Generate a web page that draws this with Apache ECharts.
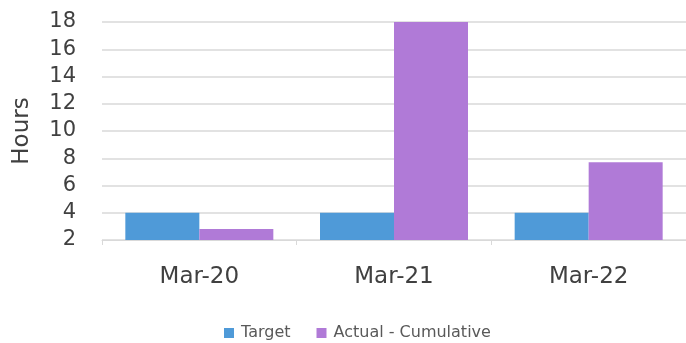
<!DOCTYPE html>
<html><head><meta charset="utf-8">
<script src="https://cdn.jsdelivr.net/npm/echarts@6/dist/echarts.min.js"></script>
<style>html,body{margin:0;padding:0;background:#fff}#c{width:686px;height:343px}</style>
</head><body><div id="c"></div>
<script>
var categories = ['Mar-20', 'Mar-21', 'Mar-22'];
var targetValues = [4, 4, 4];
var actualValues = [2.8, 18, 7.7];
var yTicks = [2, 4, 6, 8, 10, 12, 14, 16, 18];

var chart = echarts.init(document.getElementById('c'));
chart.setOption({
  animation: false,
  backgroundColor: '#fff',
  textStyle: { fontFamily: 'DejaVu Sans' },
  legend: {
    left: 219, top: 320,
    itemWidth: 10, itemHeight: 10, itemGap: 26,
    icon: 'rect',
    textStyle: { fontSize: 16, color: '#595959', fontFamily: 'DejaVu Sans', padding: [0,0,0,2] },
    data: ['Target', 'Actual - Cumulative']
  },
  grid: { left: 102, top: 22, width: 590, height: 218, containLabel: false },
  xAxis: {
    type: 'category', data: categories,
    axisLine: { lineStyle: { color: '#d9d9d9' } },
    axisTick: { show: true, lineStyle: { color: '#d9d9d9' }, length: 5 },
    axisLabel: { fontSize: 23, color: '#404040', margin: 26 }
  },
  yAxis: {
    type: 'value', min: yTicks[0], max: yTicks[yTicks.length-1], interval: 2,
    name: 'Hours', nameLocation: 'middle', nameGap: 68, nameRotate: 90,
    nameTextStyle: { fontSize: 23, color: '#404040' },
    axisLine: { show: false }, axisTick: { show: false },
    axisLabel: { fontSize: 21, color: '#404040', margin: 26 },
    splitLine: { lineStyle: { color: '#d9d9d9', width: 1.5 } }
  },
  series: [
    { name: 'Target', type: 'bar', data: targetValues, barWidth: 74, barGap: '0%',
      itemStyle: { color: '#4f9ad8' } },
    { name: 'Actual - Cumulative', type: 'bar', data: actualValues, barWidth: 74,
      itemStyle: { color: '#b07ad7' } }
  ]
});
</script></body></html>
